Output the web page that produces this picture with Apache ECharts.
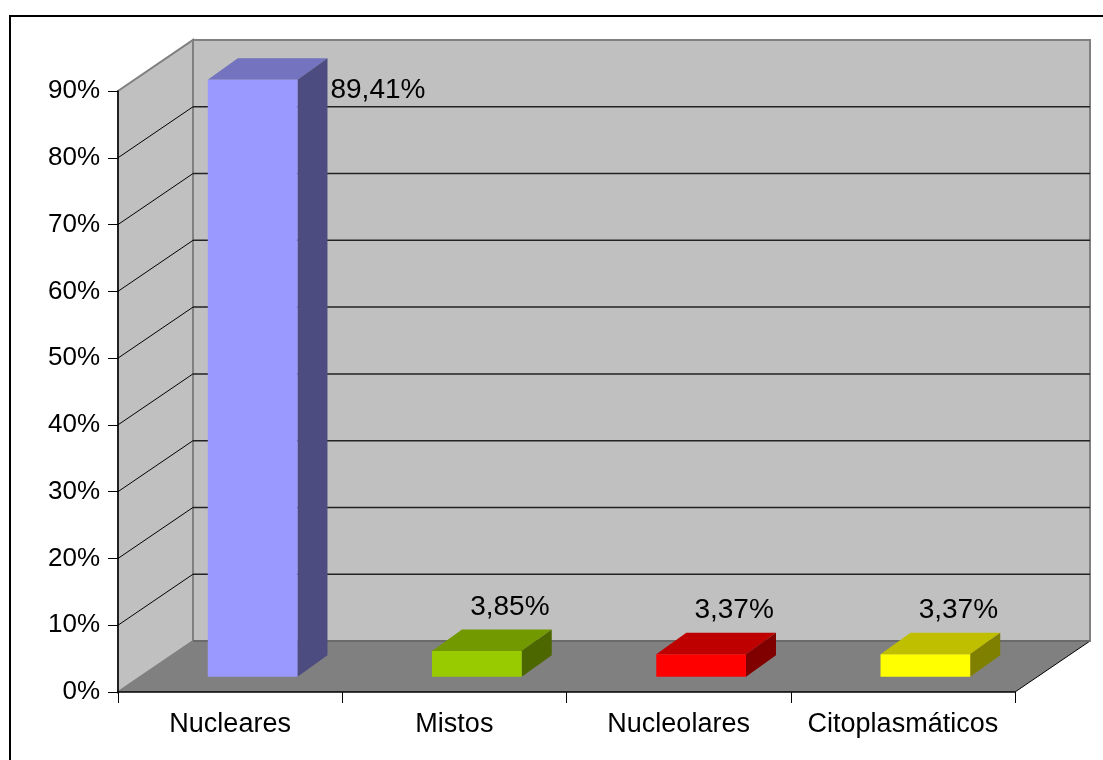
<!DOCTYPE html>
<html>
<head>
<meta charset="utf-8">
<script src="https://cdn.jsdelivr.net/npm/echarts@6/dist/echarts.min.js"></script>
<style>
html, body { margin: 0; padding: 0; background: #fff; }
#chart_box { width: 1103px; height: 760px; }
</style>
</head>
<body>
<div id="chart_box"></div>
<script>
// dados do grafico
var categories = ['Nucleares', 'Mistos', 'Nucleolares', 'Citoplasmáticos'];
var values = [89.41, 3.85, 3.37, 3.37];
var yTicks = [0, 10, 20, 30, 40, 50, 60, 70, 80, 90];

// cores das faces (frente, topo, lado)
var frontColors = ['#9999ff', '#99cc00', '#ff0000', '#ffff00'];
var topColors = ['#7373bf', '#739900', '#bf0000', '#bfbf00'];
var sideColors = ['#4c4c80', '#4c6600', '#800000', '#808000'];

(function() {
    var FONT = '"Liberation Sans", Arial, sans-serif';
    var DX = 75, DY = -51;          // profundidade das paredes
    var myChart = echarts.init(document.getElementById('chart_box'));

    function fmt(v) {
        return v.toFixed(2).replace('.', ',') + '%';
    }

    // paredes e chao
    function renderWalls(params, api) {
        var cs = params.coordSys;
        var x0 = cs.x, x1 = cs.x + cs.width;
        var yb = api.coord([0, 0])[1];
        var yt = api.coord([0, 90])[1];
        return {
            type: 'group',
            children: [{
                type: 'polygon',
                shape: { points: [[x0 + DX, yt + DY], [x1 + DX, yt + DY], [x1 + DX, yb + DY], [x0 + DX, yb + DY]] },
                style: { fill: '#c0c0c0', stroke: '#808080', lineWidth: 2 }
            }, {
                type: 'polygon',
                shape: { points: [[x0, yb], [x0, yt], [x0 + DX, yt + DY], [x0 + DX, yb + DY]] },
                style: { fill: '#c0c0c0', stroke: '#808080', lineWidth: 2 }
            }, {
                type: 'polygon',
                shape: { points: [[x0, yb], [x1, yb], [x1 + DX, yb + DY], [x0 + DX, yb + DY]] },
                style: { fill: '#808080', stroke: null }
            }, {
                type: 'line',
                shape: { x1: x1, y1: yb, x2: x1 + DX, y2: yb + DY },
                style: { stroke: '#000', lineWidth: 1 }
            }, {
                type: 'line',
                shape: { x1: x0 + DX, y1: yb + DY, x2: x1 + DX, y2: yb + DY },
                style: { stroke: '#6a6a6a', lineWidth: 2 }
            }]
        };
    }

    // linhas de grade
    function renderGrid(params, api) {
        var v = api.value(1);
        if (v <= 0 || v >= 90) return null;
        var cs = params.coordSys;
        var x0 = cs.x, x1 = cs.x + cs.width;
        var y = api.coord([0, v])[1];
        return {
            type: 'group',
            children: [{
                type: 'line',
                shape: { x1: x0 + DX, y1: y + DY, x2: x1 + DX, y2: y + DY },
                style: { stroke: '#222', lineWidth: 1.5 }
            }, {
                type: 'line',
                shape: { x1: x0, y1: y, x2: x0 + DX, y2: y + DY },
                style: { stroke: '#000', lineWidth: 1 }
            }]
        };
    }

    // barras 3D
    function renderBar(params, api) {
        var i = api.value(0);
        var v = api.value(1);
        var base = api.coord([i, 0]);
        var top = api.coord([i, v]);
        var w = api.size([1, 0])[0] * 0.4;
        var ox = DX * 0.3, oy = DY * 0.3;     // posicao da face frontal
        var bx = DX * 0.4, by = DY * 0.42;    // profundidade da barra
        var fl = base[0] - w / 2 + ox, fr = base[0] + w / 2 + ox;
        var fb = base[1] + oy, ft = top[1] + oy;
        var cs = params.coordSys;

        var lx = (fl + fr) / 2 + 33, ly = ft + by - 22, align = 'center';
        if (ly < cs.y) {
            lx = fr + bx + 3; ly = ft + 11; align = 'left';
        }
        return {
            type: 'group',
            children: [{
                type: 'polygon',
                shape: { points: [[fl, ft], [fr, ft], [fr + bx, ft + by], [fl + bx, ft + by]] },
                style: { fill: topColors[i] }
            }, {
                type: 'polygon',
                shape: { points: [[fr, ft], [fr + bx, ft + by], [fr + bx, fb + by], [fr, fb]] },
                style: { fill: sideColors[i] }
            }, {
                type: 'rect',
                shape: { x: fl, y: ft, width: fr - fl, height: fb - ft },
                style: { fill: frontColors[i] }
            }, {
                type: 'text',
                style: {
                    text: fmt(v), x: lx, y: ly, align: align, verticalAlign: 'middle',
                    font: '28px ' + FONT, fill: '#000'
                }
            }]
        };
    }

    myChart.setOption({
        backgroundColor: '#fff',
        animation: false,
        grid: { left: 118, right: 88, top: 91, bottom: 68 },
        graphic: [{
            type: 'rect',
            shape: { x: 10, y: 16, width: 1120, height: 800 },
            style: { fill: null, stroke: '#000', lineWidth: 2 }
        }],
        xAxis: {
            type: 'category',
            data: categories,
            z: 10,
            axisLine: { show: true, lineStyle: { color: '#000', width: 1.5 } },
            axisTick: { show: true, length: 11, lineStyle: { color: '#000' } },
            axisLabel: { color: '#000', fontSize: 27, fontFamily: FONT, margin: 19, interval: 0 },
            splitLine: { show: false }
        },
        yAxis: {
            type: 'value',
            min: 0,
            max: 90,
            interval: 10,
            z: 10,
            axisLine: { show: true, lineStyle: { color: '#000', width: 1.5 } },
            axisTick: { show: true, length: 10, lineStyle: { color: '#000' } },
            axisLabel: { color: '#000', fontSize: 26, fontFamily: FONT, margin: 18, formatter: '{value}%' },
            splitLine: { show: false }
        },
        series: [{
            type: 'custom',
            name: 'paredes',
            z: 1,
            renderItem: renderWalls,
            data: [[0, 0]],
            silent: true
        }, {
            type: 'custom',
            name: 'grade',
            z: 2,
            renderItem: renderGrid,
            data: yTicks.map(function(t) { return [0, t]; }),
            silent: true
        }, {
            type: 'custom',
            name: 'valores',
            z: 3,
            renderItem: renderBar,
            data: values.map(function(v, i) { return [i, v]; })
        }]
    });
})();
</script>
</body>
</html>
